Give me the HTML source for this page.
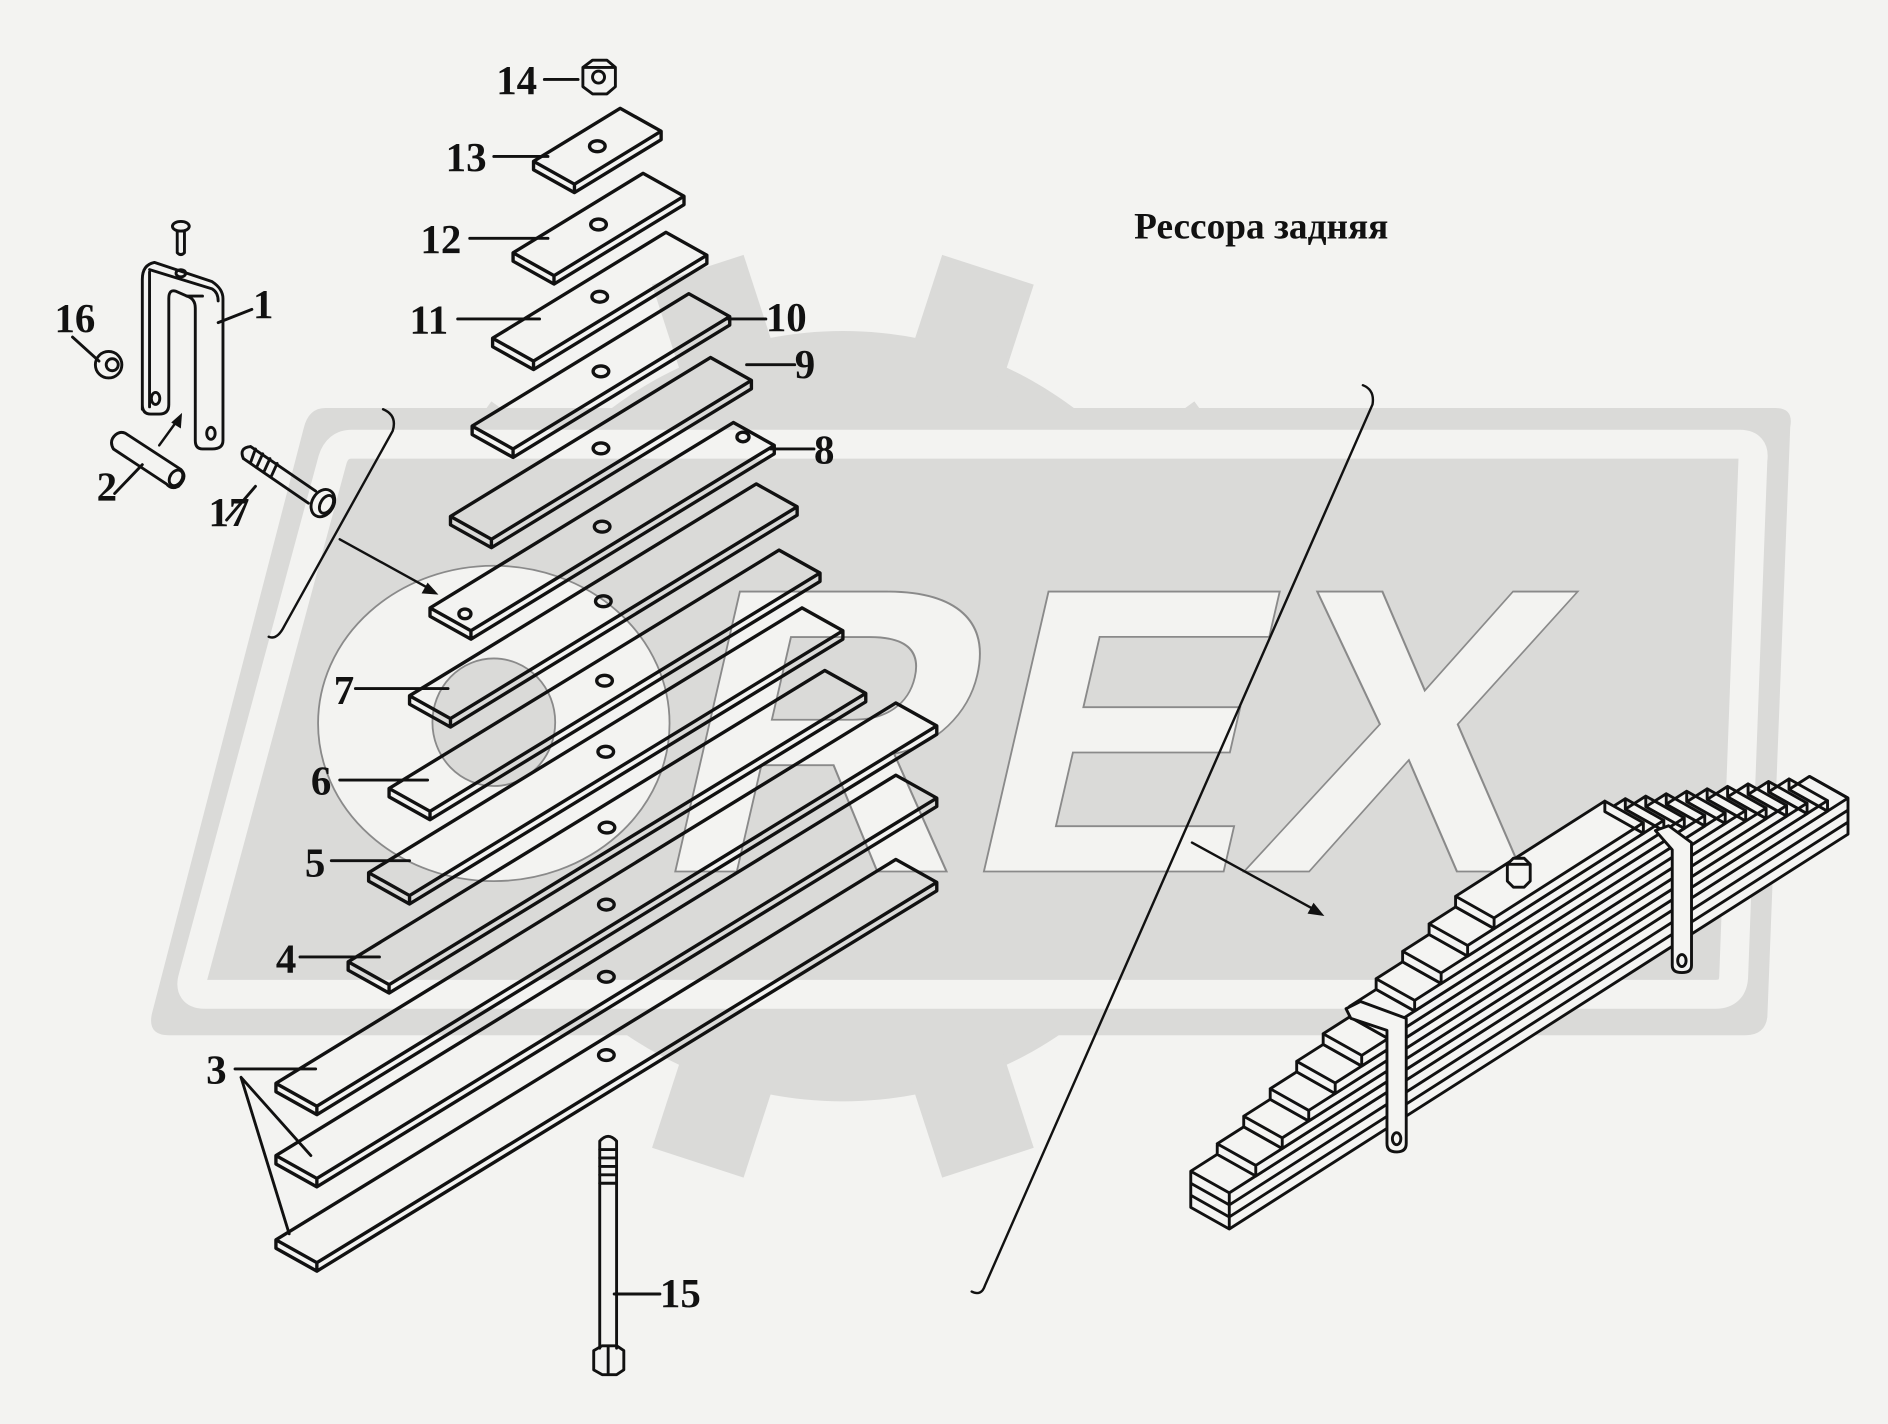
<!DOCTYPE html>
<html><head><meta charset="utf-8"><style>
html,body{margin:0;padding:0;background:#f3f3f1;}
svg{display:block}
.lb{font-family:"Liberation Serif",serif;font-weight:bold;font-size:34px;fill:#111}
</style></head><body>
<svg width="1888" height="1424" viewBox="0 0 1568 1183" xmlns="http://www.w3.org/2000/svg">
<rect width="1568" height="1183" fill="#f3f3f1"/>
<g fill="#dadad8">
  <g transform="translate(700,595)">
    <circle r="320"/>
    <rect x="-40" y="-390" width="80" height="100" transform="rotate(18)"/>
    <rect x="-40" y="-390" width="80" height="100" transform="rotate(54)"/>
    <rect x="-40" y="-390" width="80" height="100" transform="rotate(90)"/>
    <rect x="-40" y="-390" width="80" height="100" transform="rotate(126)"/>
    <rect x="-40" y="-390" width="80" height="100" transform="rotate(162)"/>
    <rect x="-40" y="-390" width="80" height="100" transform="rotate(198)"/>
    <rect x="-40" y="-390" width="80" height="100" transform="rotate(234)"/>
    <rect x="-40" y="-390" width="80" height="100" transform="rotate(270)"/>
    <rect x="-40" y="-390" width="80" height="100" transform="rotate(306)"/>
    <rect x="-40" y="-390" width="80" height="100" transform="rotate(342)"/>
  </g>
  <path d="M270,339 L1475,339 Q1490,339 1487,355 L1468,845 Q1466,860 1450,860 L140,860 Q122,860 126,842 L252,356 Q256,339 270,339Z"/>
</g>
<path d="M292,369 L1445,369 Q1458,369 1456,382 L1440,812 Q1439,826 1425,826 L170,826 Q156,826 160,812 L276,382 Q280,369 292,369Z" fill="none" stroke="#f3f3f1" stroke-width="24"/>
<ellipse cx="410" cy="601" rx="146" ry="131" fill="#f3f3f1" stroke="#8a8a8a" stroke-width="1.5"/>
<ellipse cx="410" cy="600" rx="51" ry="53" fill="#dadad8" stroke="#8a8a8a" stroke-width="1.5"/>
<g transform="translate(537,724) skewX(-13)">
<text x="0" y="0" font-family="Liberation Sans" font-weight="bold" font-size="338" textLength="730" lengthAdjust="spacingAndGlyphs" fill="#f3f3f1" stroke="#8a8a8a" stroke-width="1.5">REX</text>
</g>
<text x="942" y="198" font-family="Liberation Serif" font-weight="bold" font-size="31" fill="#111">Рессора задняя</text>

<g fill="none" stroke="#111" stroke-width="2.8" stroke-linejoin="round">
<path d="M443,134 l72,-44 l34,19 l0,7 l-72,44 l-34,-19 z m0,0 l34,19 l72,-44 m-72,44 l0,7"/>
<path d="M426,210 l108,-66 l34,19 l0,7 l-108,66 l-34,-19 z m0,0 l34,19 l108,-66 m-108,66 l0,7"/>
<path d="M409,281 l144,-88 l34,19 l0,7 l-144,88 l-34,-19 z m0,0 l34,19 l144,-88 m-144,88 l0,7"/>
<path d="M392,354 l180,-110 l34,19 l0,7 l-180,110 l-34,-19 z m0,0 l34,19 l180,-110 m-180,110 l0,7"/>
<path d="M374,429 l216,-132 l34,19 l0,7 l-216,132 l-34,-19 z m0,0 l34,19 l216,-132 m-216,132 l0,7"/>
<path d="M357,505 l252,-154 l34,19 l0,7 l-252,154 l-34,-19 z m0,0 l34,19 l252,-154 m-252,154 l0,7"/>
<path d="M340,578 l288,-176 l34,19 l0,7 l-288,176 l-34,-19 z m0,0 l34,19 l288,-176 m-288,176 l0,7"/>
<path d="M323,655 l324,-198 l34,19 l0,7 l-324,198 l-34,-19 z m0,0 l34,19 l324,-198 m-324,198 l0,7"/>
<path d="M306,725 l360,-220 l34,19 l0,7 l-360,220 l-34,-19 z m0,0 l34,19 l360,-220 m-360,220 l0,7"/>
<path d="M289,799 l396,-242 l34,19 l0,7 l-396,242 l-34,-19 z m0,0 l34,19 l396,-242 m-396,242 l0,7"/>
<path d="M229,900 l515,-316 l34,19 l0,7 l-515,316 l-34,-19 z m0,0 l34,19 l515,-316 m-515,316 l0,7"/>
<path d="M229,960 l515,-316 l34,19 l0,7 l-515,316 l-34,-19 z m0,0 l34,19 l515,-316 m-515,316 l0,7"/>
<path d="M229,1030 l515,-316 l34,19 l0,7 l-515,316 l-34,-19 z m0,0 l34,19 l515,-316 m-515,316 l0,7"/>
<ellipse cx="496" cy="121.5" rx="6.5" ry="4.5"/>
<ellipse cx="497" cy="186.5" rx="6.5" ry="4.5"/>
<ellipse cx="498" cy="246.5" rx="6.5" ry="4.5"/>
<ellipse cx="499" cy="308.5" rx="6.5" ry="4.5"/>
<ellipse cx="499" cy="372.5" rx="6.5" ry="4.5"/>
<ellipse cx="500" cy="437.5" rx="6.5" ry="4.5"/>
<ellipse cx="501" cy="499.5" rx="6.5" ry="4.5"/>
<ellipse cx="502" cy="565.5" rx="6.5" ry="4.5"/>
<ellipse cx="503" cy="624.5" rx="6.5" ry="4.5"/>
<ellipse cx="504" cy="687.5" rx="6.5" ry="4.5"/>
<ellipse cx="503.5" cy="751.5" rx="6.5" ry="4.5"/>
<ellipse cx="503.5" cy="811.5" rx="6.5" ry="4.5"/>
<ellipse cx="503.5" cy="876.5" rx="6.5" ry="4.5"/>
<ellipse cx="386" cy="510" rx="5" ry="4"/>
<ellipse cx="617" cy="363" rx="5" ry="4"/>
</g>

<g stroke="#111" stroke-width="2.4" stroke-linejoin="round" fill="#f4f4f2">
<polygon points="989,973 1503,645 1535,663 1535,693 1021,1021 989,1003"/>
<path fill="none" d="M989,973 L1021,991 L1535,663 M1021,991 L1021,1021 M1535,663 L1503,645 M989,983 L1021,1001 L1535,673 M989,993 L1021,1011 L1535,683"/>
<path d="M1043,968.2 L1518,665.1 l0,8.8 L1043,977 z M1043,968.2 l-32,-18 l0,8.8 l32,18 z M1043,968.2 l22,-14.04 l-32,-18 l-22,14.04 z M1518,665.1 l-32,-18 l0,8.8 l32,18 z M1518,665.1 l-17,10.85 l-32,-18 l17,-10.85 z"/>
<path d="M1065,945.3 L1501,667.2 l0,8.8 L1065,954.1 z M1065,945.3 l-32,-18 l0,8.8 l32,18 z M1065,945.3 l22,-14.04 l-32,-18 l-22,14.04 z M1501,667.2 l-32,-18 l0,8.8 l32,18 z M1501,667.2 l-17,10.85 l-32,-18 l17,-10.85 z"/>
<path d="M1087,922.5 L1484,669.2 l0,8.8 L1087,931.3 z M1087,922.5 l-32,-18 l0,8.8 l32,18 z M1087,922.5 l22,-14.04 l-32,-18 l-22,14.04 z M1484,669.2 l-32,-18 l0,8.8 l32,18 z M1484,669.2 l-17,10.85 l-32,-18 l17,-10.85 z"/>
<path d="M1109,899.7 L1467,671.3 l0,8.8 L1109,908.5 z M1109,899.7 l-32,-18 l0,8.8 l32,18 z M1109,899.7 l22,-14.04 l-32,-18 l-22,14.04 z M1467,671.3 l-32,-18 l0,8.8 l32,18 z M1467,671.3 l-17,10.85 l-32,-18 l17,-10.85 z"/>
<path d="M1131,876.8 L1450,673.3 l0,8.8 L1131,885.6 z M1131,876.8 l-32,-18 l0,8.8 l32,18 z M1131,876.8 l22,-14.04 l-32,-18 l-22,14.04 z M1450,673.3 l-32,-18 l0,8.8 l32,18 z M1450,673.3 l-17,10.85 l-32,-18 l17,-10.85 z"/>
<path d="M1153,854 L1433,675.3 l0,8.8 L1153,862.8 z M1153,854 l-32,-18 l0,8.8 l32,18 z M1153,854 l22,-14.04 l-32,-18 l-22,14.04 z M1433,675.3 l-32,-18 l0,8.8 l32,18 z M1433,675.3 l-17,10.85 l-32,-18 l17,-10.85 z"/>
<path d="M1175,831.1 L1416,677.4 l0,8.8 L1175,839.9 z M1175,831.1 l-32,-18 l0,8.8 l32,18 z M1175,831.1 l22,-14.04 l-32,-18 l-22,14.04 z M1416,677.4 l-32,-18 l0,8.8 l32,18 z M1416,677.4 l-17,10.85 l-32,-18 l17,-10.85 z"/>
<path d="M1197,808.3 L1399,679.4 l0,8.8 L1197,817.1 z M1197,808.3 l-32,-18 l0,8.8 l32,18 z M1197,808.3 l22,-14.04 l-32,-18 l-22,14.04 z M1399,679.4 l-32,-18 l0,8.8 l32,18 z M1399,679.4 l-17,10.85 l-32,-18 l17,-10.85 z"/>
<path d="M1219,785.5 L1382,681.5 l0,8.8 L1219,794.3 z M1219,785.5 l-32,-18 l0,8.8 l32,18 z M1219,785.5 l22,-14.04 l-32,-18 l-22,14.04 z M1382,681.5 l-32,-18 l0,8.8 l32,18 z M1382,681.5 l-17,10.85 l-32,-18 l17,-10.85 z"/>
<path d="M1241,762.6 L1365,683.5 l0,8.8 L1241,771.4 z M1241,762.6 l-32,-18 l0,8.8 l32,18 z M1241,762.6 l124,-79.1 l-32,-18 l-124,79.1 z M1365,683.5 l-32,-18 l0,8.8 l32,18 z"/>
<path d="M1252,718 l5,-5 h9 l5,5 v14 l-5,5 h-9 l-5,-5z M1252,718 h19"/>
<path d="M1118,838 L1130,832 L1168,846 L1168,950 Q1168,957 1160,957 Q1152,957 1152,950 L1152,856 L1122,846 Z"/>
<ellipse fill="none" cx="1160" cy="946" rx="3.5" ry="5"/>
<path d="M1375,690 L1386,686 L1405,700 L1405,802 Q1405,808 1397,808 Q1389,808 1389,802 L1389,706 Z"/>
<ellipse fill="none" cx="1397" cy="798" rx="3.5" ry="5"/>
</g>

<g fill="none" stroke="#111" stroke-width="2.4" stroke-linejoin="round" stroke-linecap="round">
  <path d="M452,66 H480 M410,130 H455 M390,198 H455 M380,265 H448 M603,265 H636 M620,303 H660 M640,373 H676 M295,572 H372 M282,648 H355 M275,715 H340 M249,795 H315 M195,888 H262 M510,1075 H548"/>
  <path d="M200,895 L258,960 M200,895 L240,1025"/>
  <path d="M181,268 L209,257 M60,280 L82,300 M95,410 L118,386 M188,432 L212,404"/>
  <path d="M118,340 L118,232 Q118,220 128,218 L176,234 Q185,240 185,248 L185,366 Q185,373 176,373 L168,373 Q162,373 162,366 L162,256 Q162,248 155,246 L146,242 Q140,240 140,248 L140,336 Q140,344 132,344 L125,344 Q118,344 118,336 Z"/>
  <path d="M124,224 L176,240 Q181,243 181,250 M124,226 L124,338 M155,246 L168,246"/>
  <ellipse cx="150" cy="227" rx="4" ry="3"/>
  <ellipse cx="129" cy="331" rx="3.5" ry="5"/>
  <ellipse cx="175" cy="360" rx="3.5" ry="5"/>
  <path d="M147,192 L147,210 Q150,213 153,210 L153,192"/>
  <ellipse cx="150" cy="188" rx="7" ry="4"/>
  <circle cx="90" cy="303" r="11"/>
  <circle cx="93" cy="303" r="5"/>
  <path d="M104,360 L150,390 Q156,396 148,404 Q142,407 138,402 L94,373 Q90,366 96,361 Q100,358 104,360Z"/>
  <ellipse cx="146" cy="397" rx="5" ry="7" transform="rotate(33 146 397)"/>
  <path d="M208,371 L262,408 M202,381 L256,418 M208,371 Q198,372 202,381"/>
  <path d="M212,373 L208,384 M218,377 L213,388 M224,381 L219,392 M230,385 L225,396"/>
  <ellipse cx="268" cy="418" rx="9" ry="12" transform="rotate(30 268 418)"/>
  <ellipse cx="271" cy="419" rx="5" ry="8" transform="rotate(30 271 419)"/>
  <path d="M484,56 L492,50 L504,50 L511,56 L511,72 L504,78 L492,78 L484,72 Z M484,56 L511,56"/>
  <circle cx="497" cy="64" r="5"/>
  <path d="M498,1120 L498,948 Q505,940 512,948 L512,1120"/>
  <path d="M498,955 H512 M498,962 H512 M498,969 H512 M498,976 H512 M498,983 H512"/>
  <path d="M493,1122 L500,1118 L512,1118 L518,1122 L518,1138 L512,1142 L500,1142 L493,1138 Z M505,1118 L505,1142"/>
  <path d="M318,340 Q330,345 326,358 L236,520 Q230,532 223,529" stroke-width="2"/>
  <path d="M282,448 L360,491" stroke-width="2"/>
  <path d="M1132,320 Q1142,324 1140,336 L818,1068 Q815,1077 807,1073" stroke-width="2"/>
  <path d="M990,700 L1096,758" stroke-width="2"/>
  <path d="M132,370 L148,348" stroke-width="2"/>
</g>
<g fill="#111">
  <path d="M364,494 L350,493 L355,484Z"/>
  <path d="M1100,761 L1086,759 L1091,750Z"/>
  <path d="M151,343 L150,356 L142,351Z"/>
</g>
<g class="lb">
  <text x="412" y="78">14</text>
  <text x="370" y="142">13</text>
  <text x="349" y="210">12</text>
  <text x="340" y="277">11</text>
  <text x="636" y="275">10</text>
  <text x="660" y="314">9</text>
  <text x="676" y="385">8</text>
  <text x="277" y="585">7</text>
  <text x="258" y="660">6</text>
  <text x="253" y="728">5</text>
  <text x="229" y="808">4</text>
  <text x="171" y="900">3</text>
  <text x="210" y="264">1</text>
  <text x="45" y="276">16</text>
  <text x="80" y="416">2</text>
  <text x="173" y="437">17</text>
  <text x="548" y="1086">15</text>
</g>
</svg>
</body></html>
